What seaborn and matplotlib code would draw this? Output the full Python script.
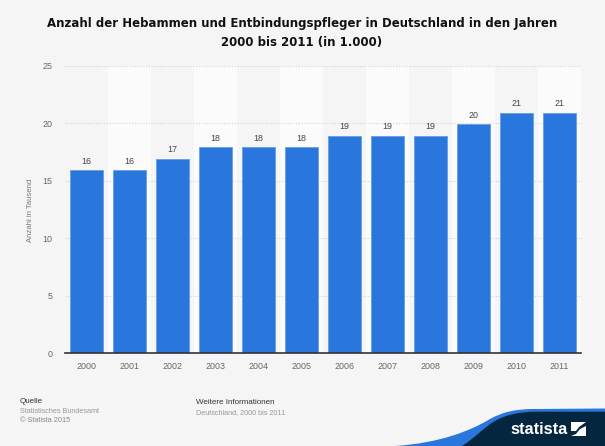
import matplotlib
matplotlib.use("Agg")
import matplotlib.pyplot as plt
from matplotlib.patches import PathPatch, Polygon
from matplotlib.path import Path
import pandas as pd
import seaborn as sns

years = ["2000", "2001", "2002", "2003", "2004", "2005",
         "2006", "2007", "2008", "2009", "2010", "2011"]
values = [15.9, 15.9, 16.9, 17.9, 17.9, 17.9, 18.9, 18.9, 18.9, 19.9, 20.9, 20.9]
y_ticks = [0, 5, 10, 15, 20, 25]

W, H = 605, 446
bg = "#f5f5f5"
blue = "#2976dd"
navy = "#04263f"
small = "Liberation Sans"

sns.set_theme(style="white")
plt.rcParams["font.family"] = ["DejaVu Sans"]

df = pd.DataFrame({"year": years, "value": values})

fig = plt.figure(figsize=(W / 100, H / 100), dpi=100, facecolor=bg)
ax = fig.add_axes([65 / W, (H - 353.3) / H, 516 / W, 287.6 / H], facecolor=bg)

# Alternating column bands behind the bars
for i in range(1, len(years), 2):
    ax.axvspan(i - 0.5, i + 0.5, color="#fbfbfb", lw=0, zorder=0)

# Dotted grid
for t in y_ticks[1:]:
    ax.axhline(t, color="#d4d4d4", lw=0.8, ls=(0, (1, 1.5)), zorder=1)

sns.barplot(data=df, x="year", y="value", color=blue, saturation=1,
            width=0.77, edgecolor="#5e99e6", linewidth=0.5, ax=ax, zorder=2)

for i, v in enumerate(values):
    ax.text(i, v + 0.42, f"{v:.0f}", ha="center", va="bottom",
            fontsize=6.4, color="#444444", family=small)

ax.set_xlim(-0.5, len(years) - 0.5)
ax.set_ylim(0, 25)
ax.set_yticks(y_ticks)
ax.set_xlabel("")
ax.set_ylabel("")
ax.tick_params(axis="both", length=0, labelsize=6.4, labelcolor="#666666")
ax.tick_params(axis="x", pad=6.5)
ax.tick_params(axis="y", pad=9)
for lab in ax.get_xticklabels() + ax.get_yticklabels():
    lab.set_family(small)
sns.despine(ax=ax, left=True)
ax.spines["bottom"].set_color("#333333")
ax.spines["bottom"].set_linewidth(1.2)

fig.text(31 / W, 1 - 210 / H, "Anzahl in Tausend", rotation=90, ha="center",
         va="center", fontsize=5.6, color="#777777", family=small)

fig.text(302 / W, 1 - 23.5 / H, "Anzahl der Hebammen und Entbindungspfleger in Deutschland in den Jahren",
         ha="center", va="center", fontsize=8.45, fontweight="bold", color="#111111")
fig.text(302 / W, 1 - 42.5 / H, "2000 bis 2011 (in 1.000)",
         ha="center", va="center", fontsize=8.45, fontweight="bold", color="#111111")

# Footer
fig.text(20 / W, 1 - 401.5 / H, "Quelle", va="center", fontsize=5.8, color="#333333", family=small)
fig.text(20 / W, 1 - 411.5 / H, "Statistisches Bundesamt", va="center", fontsize=5.2, color="#999999", family=small)
fig.text(20 / W, 1 - 421 / H, "© Statista 2015", va="center", fontsize=5.3, color="#888888", family=small)
fig.text(196 / W, 1 - 402.5 / H, "Weitere Informationen", va="center", fontsize=5.8, color="#333333", family=small)
fig.text(196 / W, 1 - 413 / H, "Deutschland, 2000 bis 2011", va="center", fontsize=5.25, color="#999999", family=small)

# Statista logo corner
logo = fig.add_axes([0, 0, 1, 1], facecolor="none", zorder=5)
logo.set_xlim(0, W)
logo.set_ylim(H, 0)
logo.axis("off")
codes = [Path.MOVETO] + [Path.CURVE4] * 6 + [Path.LINETO] * 3
blue_edge = [(395, 446), (440, 443), (470, 431), (490, 419),
             (503, 412), (515, 409), (535, 409), (605, 408.5), (605, 446), (395, 446)]
navy_edge = [(462, 446), (475, 438), (483, 428), (495, 421),
             (505, 415), (520, 411.7), (535, 411.7), (605, 411.7), (605, 446), (462, 446)]
logo.add_patch(PathPatch(Path(blue_edge, codes), fc=blue, lw=0))
logo.add_patch(PathPatch(Path(navy_edge, codes), fc=navy, lw=0))
logo.text(510, 429, "statista", color="white", fontsize=11.8, fontweight="bold",
          ha="left", va="center", family=small)
logo.add_patch(Polygon([(571, 422), (586, 422), (579, 427), (576, 431), (571, 431)],
                       closed=True, fc="white", lw=0))
logo.add_patch(Polygon([(586, 426), (586, 436), (571, 436), (576, 434), (580, 429)],
                       closed=True, fc="white", lw=0))

fig.savefig("out.png", dpi=100, facecolor=bg)
